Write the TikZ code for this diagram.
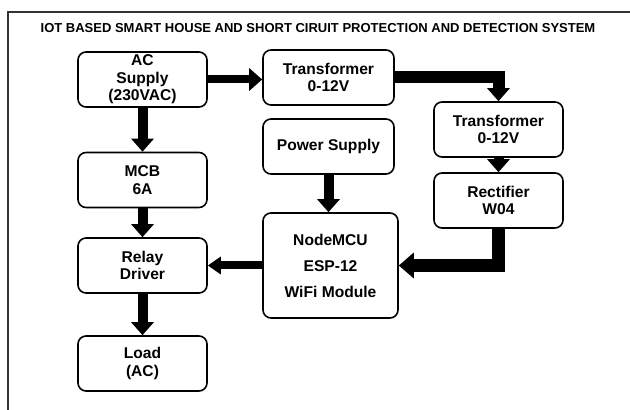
\documentclass[tikz,border=0pt]{standalone}
\usepackage{fontspec}
\setmainfont{Liberation Sans}
\usetikzlibrary{arrows.meta}

\begin{document}
\begin{tikzpicture}[x=1pt, y=1pt,
  block/.style={draw, line width=1.6pt, rounded corners=8pt, align=center,
    minimum width=129pt, minimum height=55pt, inner sep=2pt,
    font=\fontsize{15.6}{17.5}\selectfont\bfseries},
  flow/.style={line width=10pt, line join=miter,
    -{Triangle[width=22pt,length=13pt]}}]
  \useasboundingbox (0,0) rectangle (630,410);
  % outer frame and title
  \draw[line width=1.2pt, black!80] (8,0) -- (8,398) -- (630,398);
  \node[font=\fontsize{13}{15}\selectfont\bfseries] (title) at (318,382)
    {IOT BASED SMART HOUSE AND  SHORT CIRUIT PROTECTION AND DETECTION SYSTEM};
  % left column
  \node[block] (ac)    at (142.5,330.5) {AC\\Supply\\(230VAC)};
  \node[block] (mcb)   at (142.5,230)   {MCB\\6A};
  \node[block] (relay) at (142.5,144.5) {Relay\\Driver};
  \node[block] (load)  at (142.5,46.5)  {Load\\(AC)};
  % middle column
  \node[block, minimum width=131pt] (trf1)  at (328.5,332.5) {Transformer\\0-12V};
  \node[block, minimum width=131pt] (power) at (328.5,263.5) {Power Supply};
  \node[block, minimum width=135pt, minimum height=105pt,
    font=\fontsize{15.6}{26}\selectfont\bfseries] (mcu) at (330.5,144.5)
    {NodeMCU\\ESP-12\\WiFi Module};
  % right column
  \node[block] (trf2) at (498.5,280.5) {Transformer\\0-12V};
  \node[block] (rect) at (498.5,209.5) {Rectifier\\W04};
  % arrows
  \draw[flow] (ac) -- (mcb);
  \draw[flow] (mcb) -- (relay);
  \draw[flow] (relay) -- (load);
  \draw[flow, line width=8pt] (ac.east) -- (ac.east -| trf1.west);
  \draw[flow, line width=12pt] (trf1.east) -| (trf2.north);
  \draw[flow] (trf2) -- (rect);
  \draw[flow] (power.south) -- (power.south |- mcu.north);
  \draw[flow, line width=13pt, -{Triangle[width=25pt,length=15pt]}] (rect.south) |- (mcu.east);
  \draw[flow, line width=8pt, -{Triangle[width=17pt,length=13pt]}] (mcu.west) -- (mcu.west -| relay.east);
\end{tikzpicture}
\end{document}
